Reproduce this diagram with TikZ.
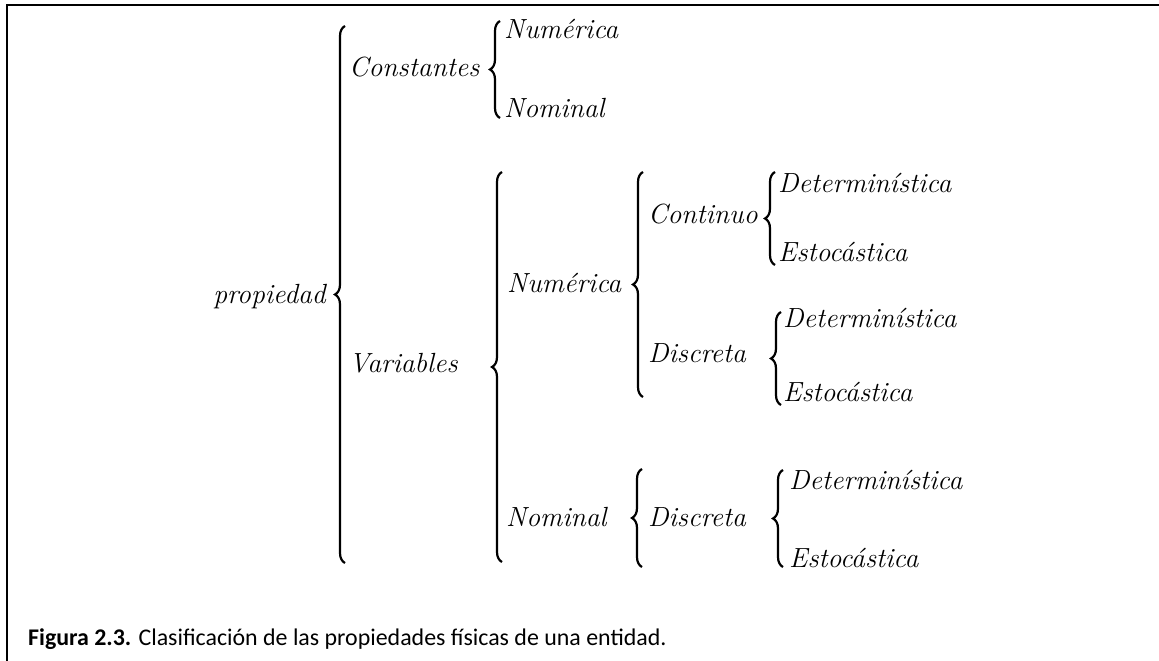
\documentclass[tikz,border=0pt]{standalone}
\usepackage{fontspec}
\newfontfamily\captionfont{Carlito}
\usetikzlibrary{decorations.pathreplacing}

\tikzset{
  term/.style={font=\fontsize{27.7}{30}\selectfont\itshape, inner sep=0pt, anchor=base west},
  llave/.style={decorate, decoration={brace, amplitude=10pt}, line width=2.2pt},
  pie/.style={font=\captionfont\fontsize{23.9}{26}\selectfont, inner sep=0pt, anchor=base west},
}

\begin{document}
\begin{tikzpicture}[x=1pt, y=-1pt]
    \useasboundingbox (0,0) rectangle (1159,661);

    % marco
    \draw[line width=2pt] (7,661) -- (7,5) -- (1159,5);

    % raiz
    \node[term, anchor=base east] (prop) at (326,303) {propiedad};
    \coordinate (b1n) at (345,26);
    \coordinate (b1s) at (345,563);
    \draw[llave] (b1s) -- (b1n);

    % constantes
    \node[term] (const) at (349,77) {Constantes};
    \coordinate (b2n) at (500,21);
    \coordinate (b2s) at (500,118);
    \draw[llave] (b2s) -- (b2n);
    \node[term] (cnum) at (504,39) {Numérica};
    \node[term] (cnom) at (504,117) {Nominal};

    % variables
    \node[term] (var) at (349,372) {Variables};
    \coordinate (b3n) at (502,172);
    \coordinate (b3s) at (502,562);
    \draw[llave] (b3s) -- (b3n);

    \node[term] (vnum) at (507,292) {Numérica};
    \coordinate (b4n) at (643,172);
    \coordinate (b4s) at (643,397);
    \draw[llave] (b4s) -- (b4n);

    \node[term] (cont) at (648,223) {Continuo};
    \coordinate (b5n) at (775,172);
    \coordinate (b5s) at (775,265);
    \draw[llave] (b5s) -- (b5n);
    \node[term] (cdet) at (778,192) {Determinística};
    \node[term] (cest) at (778,261) {Estocástica};

    \node[term] (disc) at (648,362) {Discreta};
    \coordinate (b6n) at (781,312);
    \coordinate (b6s) at (781,405);
    \draw[llave] (b6s) -- (b6n);
    \node[term] (ddet) at (783,327) {Determinística};
    \node[term] (dest) at (783,401) {Estocástica};

    \node[term] (vnom) at (506,526) {Nominal};
    \coordinate (b7n) at (642,469);
    \coordinate (b7s) at (642,567);
    \draw[llave] (b7s) -- (b7n);

    \node[term] (ndisc) at (648,526) {Discreta};
    \coordinate (b8n) at (783,470);
    \coordinate (b8s) at (783,567);
    \draw[llave] (b8s) -- (b8n);
    \node[term] (ndet) at (789,489) {Determinística};
    \node[term] (nest) at (789,567) {Estocástica};

    % pie de figura
    \node[pie] (cap) at (28,645) {\textbf{Figura 2.3.} Clasificación de las propiedades físicas de una entidad.};
\end{tikzpicture}
\end{document}
